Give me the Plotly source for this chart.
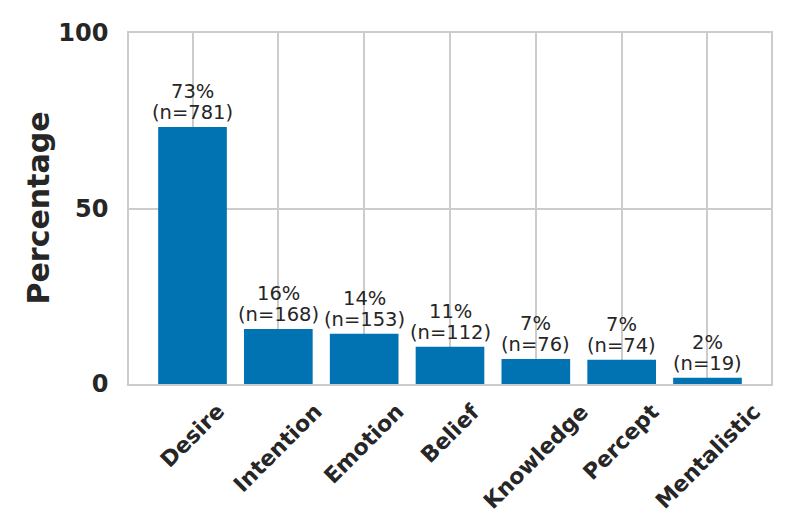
import plotly.graph_objects as go

# data
categories = ["Desire", "Intention", "Emotion", "Belief", "Knowledge", "Percept", "Mentalistic"]
percent = [73.2, 15.7, 14.3, 10.6, 7.1, 6.9, 1.8]
counts = [781, 168, 153, 112, 76, 74, 19]

xs = list(range(len(categories)))

fig = go.Figure()
fig.add_trace(
    go.Bar(
        x=xs,
        y=percent,
        width=0.8,
        marker=dict(color="#0173b2", line=dict(width=0)),
        hoverinfo="skip",
    )
)

# value labels: two lines above each bar (tight line spacing like matplotlib)
for x, p, n in zip(xs, percent, counts):
    fig.add_annotation(x=x, y=p, text="(n={})".format(n), showarrow=False,
                       yanchor="bottom", yshift=1,
                       font=dict(size=19.5, color="#262626"))
    fig.add_annotation(x=x, y=p, text="{:.0f}%".format(p), showarrow=False,
                       yanchor="bottom", yshift=22,
                       font=dict(size=19.5, color="#262626"))

# rotated category labels, centred under each bar
for x, c in zip(xs, categories):
    fig.add_annotation(x=x, y=0, yref="paper", text="<b>{}</b>".format(c),
                       showarrow=False, textangle=-45,
                       xanchor="center", yanchor="top", yshift=-12,
                       font=dict(size=22, color="#262626"))

fig.add_annotation(x=0, y=0.5, xref="paper", yref="paper", text="<b>Percentage</b>",
                   showarrow=False, textangle=-90, xanchor="center", yanchor="middle",
                   xshift=-91, font=dict(size=30, color="#262626"))

fig.update_layout(
    width=793,
    height=529,
    paper_bgcolor="white",
    plot_bgcolor="white",
    margin=dict(l=129, r=22, t=33, b=145),
    showlegend=False,
    font=dict(family="DejaVu Sans", color="#262626"),
    xaxis=dict(
        range=[-0.74, 6.74],
        tickvals=xs,
        showticklabels=False,
        showgrid=True,
        gridcolor="#cccccc",
        gridwidth=1.5,
        showline=True,
        linecolor="#cccccc",
        linewidth=1.5,
        mirror=True,
        zeroline=False,
        ticks="",
        automargin=False,
    ),
    yaxis=dict(
        range=[0, 100],
        tickvals=[0, 50, 100],
        ticktext=["<b>0</b>", "<b>50</b>", "<b>100</b>"],
        tickfont=dict(size=24),
        ticklabelstandoff=14,
        showgrid=True,
        gridcolor="#cccccc",
        gridwidth=1.5,
        showline=True,
        linecolor="#cccccc",
        linewidth=1.5,
        mirror=True,
        zeroline=False,
        ticks="",
        automargin=False,
    ),
)

# page body has a default 8px margin; drop it so the figure sits at the window corner
fig.write_html("out.html", config={"displayModeBar": False},
               post_script="document.body.style.margin = '0';")
